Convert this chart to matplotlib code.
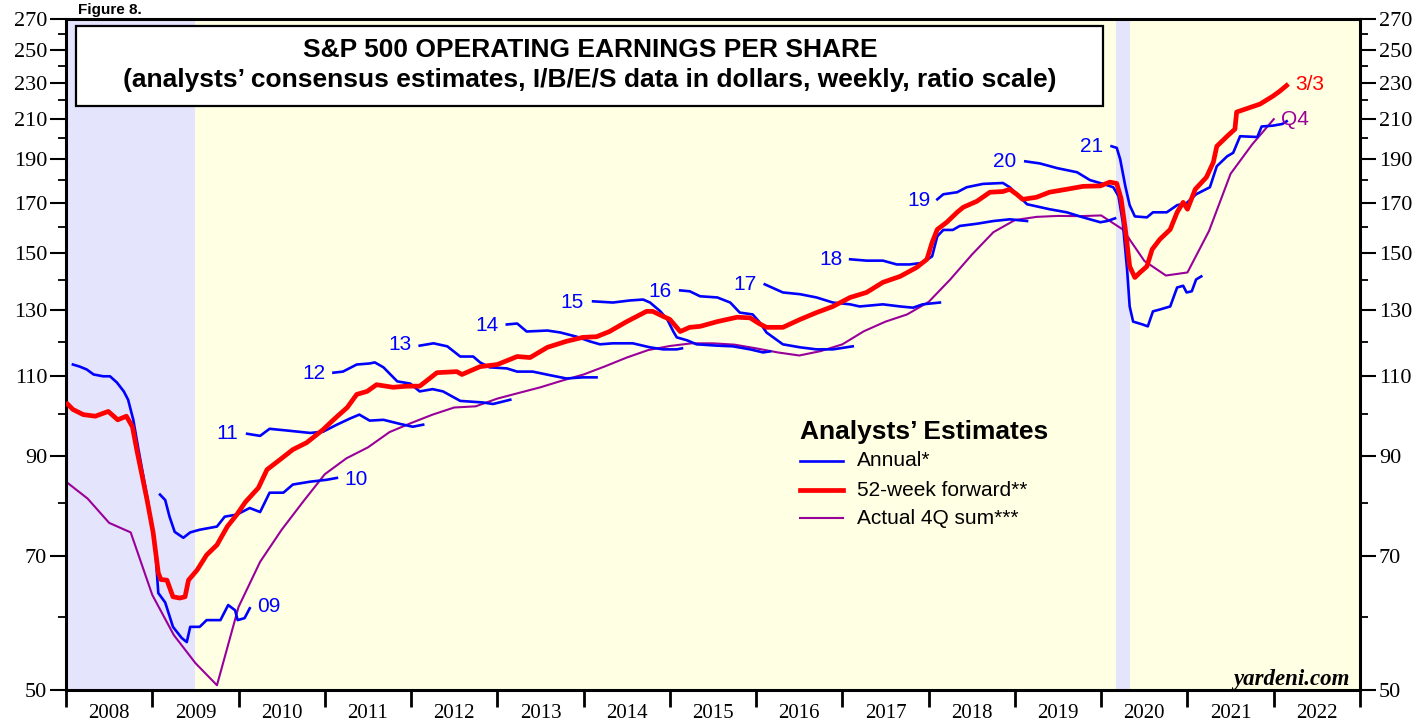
import matplotlib
matplotlib.use('Agg')
import matplotlib.pyplot as plt
from matplotlib.ticker import FixedLocator, FixedFormatter, NullFormatter
from matplotlib.patches import Rectangle

plt.rcParams['font.family'] = ['Liberation Sans', 'DejaVu Sans']

# 52-week forward earnings (weekly)
fwd_t = [2008.00, 2008.08, 2008.20, 2008.34, 2008.49, 2008.60, 2008.70, 2008.77, 2008.82, 2008.94,
         2009.01, 2009.07, 2009.10, 2009.17, 2009.24, 2009.32, 2009.38, 2009.42, 2009.52, 2009.63,
         2009.75, 2009.87, 2009.98, 2010.08, 2010.23, 2010.33, 2010.48, 2010.63, 2010.79, 2010.98,
         2011.10, 2011.26, 2011.37, 2011.49, 2011.60, 2011.79, 2011.95, 2012.10, 2012.30, 2012.53,
         2012.59, 2012.80, 2013.00, 2013.23, 2013.38, 2013.58, 2013.80, 2013.99, 2014.15, 2014.30,
         2014.50, 2014.73, 2014.80, 2014.92, 2015.00, 2015.12, 2015.23, 2015.35, 2015.55, 2015.78,
         2015.93, 2016.04, 2016.12, 2016.31, 2016.51, 2016.70, 2016.89, 2017.09, 2017.28, 2017.47,
         2017.67, 2017.86, 2017.98, 2018.04, 2018.10, 2018.21, 2018.33, 2018.40, 2018.56, 2018.71,
         2018.86, 2018.94, 2019.02, 2019.09, 2019.25, 2019.40, 2019.60, 2019.79, 2019.99, 2020.10,
         2020.18, 2020.23, 2020.28, 2020.33, 2020.39, 2020.45, 2020.53, 2020.59, 2020.68, 2020.80,
         2020.88, 2020.95, 2021.00, 2021.09, 2021.22, 2021.30, 2021.34, 2021.46, 2021.55, 2021.57,
         2021.69, 2021.84, 2021.99, 2022.07, 2022.17]
fwd_v = [103.0, 101.2, 99.9, 99.5, 100.7, 98.6, 99.5, 96.9, 91.5, 80.6,
         74.3, 67.1, 66.0, 65.9, 63.2, 63.0, 63.2, 65.9, 67.6, 70.2,
         72.0, 75.4, 77.7, 80.2, 83.1, 87.0, 89.2, 91.5, 93.1, 96.2,
         98.6, 101.7, 105.1, 105.9, 107.7, 107.0, 107.3, 107.3, 111.0, 111.3,
         110.5, 112.7, 113.3, 115.6, 115.3, 118.3, 120.1, 121.3, 121.5, 123.1,
         126.2, 129.5, 129.5, 127.9, 126.9, 123.1, 124.4, 124.7, 126.2, 127.6,
         127.4, 125.5, 124.4, 124.4, 126.9, 129.1, 131.1, 134.1, 135.8, 139.3,
         141.4, 144.6, 147.6, 154.0, 159.1, 162.0, 166.1, 168.2, 170.8, 174.7,
         175.0, 176.0, 173.8, 171.6, 172.5, 174.7, 176.0, 177.3, 177.5, 179.2,
         178.6, 172.0, 159.1, 145.0, 141.0, 142.8, 145.0, 151.3, 155.2, 159.1,
         166.1, 170.3, 167.4, 176.0, 181.4, 188.4, 196.1, 201.1, 204.7, 213.7,
         215.6, 218.0, 222.4, 225.2, 229.3]

# actual 4Q trailing sum (quarterly)
act_t = [2008.00, 2008.25, 2008.50, 2008.75, 2009.00, 2009.25, 2009.50, 2009.75, 2010.00, 2010.25,
         2010.50, 2010.75, 2011.00, 2011.25, 2011.50, 2011.75, 2012.00, 2012.25, 2012.50, 2012.75,
         2013.00, 2013.25, 2013.50, 2013.75, 2014.00, 2014.25, 2014.50, 2014.75, 2015.00, 2015.25,
         2015.50, 2015.75, 2016.00, 2016.25, 2016.50, 2016.75, 2017.00, 2017.25, 2017.50, 2017.75,
         2018.00, 2018.25, 2018.50, 2018.75, 2019.00, 2019.25, 2019.50, 2019.75, 2020.00, 2020.25,
         2020.50, 2020.75, 2021.00, 2021.25, 2021.50, 2021.75, 2022.00]
act_v = [84.4, 80.9, 76.1, 74.3, 63.5, 57.4, 53.5, 50.6, 61.6, 69.0,
         74.8, 80.3, 86.0, 89.5, 92.0, 95.6, 97.8, 99.9, 101.7, 102.0,
         104.0, 105.5, 107.0, 108.8, 110.5, 112.8, 115.3, 117.5, 118.7, 119.5,
         119.5, 119.1, 118.0, 116.8, 115.9, 117.2, 119.2, 123.2, 126.2, 128.5,
         132.6, 140.3, 149.3, 158.0, 162.9, 164.2, 164.6, 164.5, 164.8, 159.1,
         147.0, 141.7, 142.8, 158.5, 183.0, 197.0, 209.9]

# annual consensus estimates, one line per calendar year
est09_t = [2008.08, 2008.16, 2008.24, 2008.32, 2008.43, 2008.51, 2008.59, 2008.67, 2008.72, 2008.78,
           2008.84, 2008.94, 2009.03, 2009.07, 2009.15, 2009.24, 2009.34, 2009.40, 2009.44, 2009.55,
           2009.63, 2009.79, 2009.88, 2009.96, 2009.99, 2010.07, 2010.13]
est09_v = [113.3, 112.7, 111.9, 110.5, 110.0, 110.0, 108.3, 105.9, 103.7, 98.6,
           91.5, 81.3, 72.2, 63.8, 62.3, 58.6, 57.0, 56.4, 58.6, 58.6,
           59.6, 59.6, 61.9, 61.1, 59.6, 59.9, 61.4]
est10_t = [2009.09, 2009.15, 2009.20, 2009.26, 2009.36, 2009.44, 2009.55, 2009.75, 2009.84, 2009.98,
           2010.13, 2010.25, 2010.36, 2010.52, 2010.63, 2010.83, 2011.02, 2011.14]
est10_v = [81.7, 80.6, 77.3, 74.4, 73.3, 74.3, 74.8, 75.4, 77.3, 77.7,
           79.0, 78.2, 82.1, 82.1, 83.8, 84.4, 84.8, 85.2]
est11_t = [2010.10, 2010.25, 2010.36, 2010.60, 2010.83, 2010.98, 2011.14, 2011.29, 2011.40, 2011.52,
           2011.68, 2011.87, 2012.02, 2012.14]
est11_v = [95.2, 94.7, 96.4, 95.9, 95.4, 95.7, 97.4, 98.9, 99.9, 98.4,
           98.6, 97.6, 96.9, 97.4]
est12_t = [2011.10, 2011.21, 2011.37, 2011.52, 2011.58, 2011.68, 2011.84, 2011.99, 2012.10, 2012.25,
           2012.37, 2012.57, 2012.83, 2012.95, 2013.15]
est12_v = [111.0, 111.3, 113.3, 113.6, 113.9, 112.5, 108.6, 108.0, 105.9, 106.5,
           105.9, 103.4, 103.0, 102.6, 103.7]
est13_t = [2012.10, 2012.26, 2012.42, 2012.57, 2012.72, 2012.80, 2012.91, 2013.11, 2013.23, 2013.41,
           2013.61, 2013.80, 2013.99, 2014.15]
est13_v = [118.8, 119.5, 118.6, 115.6, 115.6, 113.9, 112.5, 112.2, 111.3, 111.3,
           110.3, 109.4, 109.7, 109.7]
est14_t = [2013.11, 2013.23, 2013.34, 2013.58, 2013.73, 2013.92, 2014.07, 2014.19, 2014.34, 2014.57,
           2014.77, 2014.92, 2015.08, 2015.14]
est14_v = [125.3, 125.6, 123.1, 123.4, 122.8, 121.5, 120.1, 119.2, 119.5, 119.5,
           118.3, 117.7, 117.7, 118.0]
est15_t = [2014.11, 2014.34, 2014.54, 2014.69, 2014.77, 2014.89, 2014.97, 2015.04, 2015.08, 2015.20,
           2015.31, 2015.55, 2015.73, 2015.93, 2016.08, 2016.16]
est15_v = [132.8, 132.4, 133.1, 133.4, 132.4, 129.5, 126.9, 123.1, 121.3, 120.4,
           119.2, 118.8, 118.6, 117.7, 116.8, 117.1]
est16_t = [2015.12, 2015.23, 2015.35, 2015.55, 2015.70, 2015.81, 2015.96, 2016.04, 2016.12, 2016.31,
           2016.51, 2016.70, 2016.89, 2017.12]
est16_v = [136.5, 136.2, 134.5, 134.1, 132.4, 129.1, 128.5, 126.0, 122.8, 119.2,
           118.3, 117.7, 117.7, 118.6]
est17_t = [2016.10, 2016.31, 2016.51, 2016.70, 2016.89, 2017.09, 2017.20, 2017.47, 2017.67, 2017.82,
           2017.93, 2018.13]
est17_v = [138.6, 135.8, 135.2, 134.1, 132.4, 131.8, 131.1, 131.8, 131.1, 130.7,
           131.8, 132.4]
est18_t = [2017.09, 2017.28, 2017.47, 2017.63, 2017.78, 2017.93, 2018.04, 2018.10, 2018.17, 2018.28,
           2018.36, 2018.56, 2018.75, 2018.94, 2019.14]
est18_v = [147.6, 147.1, 147.1, 145.7, 145.7, 146.3, 148.7, 156.4, 158.9, 158.9,
           160.5, 161.4, 162.5, 163.2, 162.5]
est19_t = [2018.10, 2018.17, 2018.33, 2018.44, 2018.63, 2018.86, 2018.94, 2019.06, 2019.14, 2019.40,
           2019.60, 2019.79, 2019.99, 2020.07, 2020.16]
est19_v = [171.6, 173.8, 174.7, 176.9, 178.4, 178.8, 176.9, 172.5, 169.5, 167.4,
           166.1, 164.0, 162.0, 162.5, 163.6]
est20_t = [2019.12, 2019.29, 2019.49, 2019.72, 2019.87, 2020.02, 2020.14, 2020.20, 2020.25, 2020.30,
           2020.33, 2020.37, 2020.48, 2020.54, 2020.60, 2020.68, 2020.80, 2020.88, 2020.95, 2020.99,
           2021.05, 2021.10, 2021.16]
est20_v = [188.8, 187.8, 185.6, 183.7, 180.1, 178.4, 176.9, 173.0, 162.0, 143.9,
           131.1, 126.2, 125.3, 124.7, 129.5, 130.1, 131.1, 137.5, 138.1, 135.8,
           136.2, 140.3, 141.4]
est21_t = [2020.12, 2020.18, 2020.22, 2020.28, 2020.33, 2020.39, 2020.53, 2020.60, 2020.76, 2020.88,
           2020.99, 2021.10, 2021.26, 2021.34, 2021.46, 2021.53, 2021.61, 2021.81, 2021.86, 2021.99,
           2022.10, 2022.15]
est21_v = [196.1, 195.3, 189.8, 177.3, 169.1, 164.4, 164.0, 166.1, 166.1, 169.1,
           170.0, 173.8, 176.9, 186.5, 191.2, 192.9, 201.1, 200.7, 206.1, 206.5,
           207.4, 208.8]

# year labels next to each annual line: text, x, y, alignment
lab_text = ['09', '10', '11', '12', '13', '14', '15', '16', '17', '18', '19', '20', '21']
lab_t = [2010.22, 2011.23, 2010.00, 2011.01, 2012.01, 2013.01, 2014.00, 2015.02, 2016.01,
         2017.00, 2018.02, 2019.02, 2020.02]
lab_v = [61.6, 84.9, 95.2, 110.8, 119.1, 124.9, 132.4, 136.2, 138.6, 147.6, 170.9, 188.8, 196.0]
lab_ha = ['left', 'left'] + ['right'] * 11

recessions = [(2007.9, 2009.5), (2020.17, 2020.33)]
ytick_major = [50, 70, 90, 110, 130, 150, 170, 190, 210, 230, 250, 270]
ytick_minor = [60, 80, 100, 120, 140, 160, 180, 200, 220, 240, 260]
years = list(range(2008, 2023))

BLUE = '#0000FF'
RED = '#FF0000'
PURPLE = '#990099'

fig = plt.figure(figsize=(14.16, 7.21), dpi=100)
ax = fig.add_axes([66 / 1416, 31 / 721, 1294 / 1416, 671 / 721])
ax.set_facecolor('#FFFFE3')

for a, b in recessions:
    ax.axvspan(a, b, color='#E4E4FC', lw=0, zorder=0)

annual = [(est09_t, est09_v), (est10_t, est10_v), (est11_t, est11_v), (est12_t, est12_v),
          (est13_t, est13_v), (est14_t, est14_v), (est15_t, est15_v), (est16_t, est16_v),
          (est17_t, est17_v), (est18_t, est18_v), (est19_t, est19_v), (est20_t, est20_v),
          (est21_t, est21_v)]
for t, v in annual:
    ax.plot(t, v, color=BLUE, lw=1.9, zorder=3)
ax.plot(act_t, act_v, color=PURPLE, lw=1.5, zorder=2)
ax.plot(fwd_t, fwd_v, color=RED, lw=3.4, zorder=4, solid_capstyle='butt')

for s, x, y, ha in zip(lab_text, lab_t, lab_v, lab_ha):
    ax.text(x, y, s, color=BLUE, fontsize=15, ha=ha, va='center')
ax.text(2022.25, fwd_v[-1], '3/3', color=RED, fontsize=15, ha='left', va='center')
ax.text(2022.09, act_v[-1], 'Q4', color=PURPLE, fontsize=15, ha='left', va='center')

ax.set_yscale('log')
ax.set_ylim(50, 270)
ax.set_xlim(2008, 2023)
ax.yaxis.set_major_locator(FixedLocator(ytick_major))
ax.yaxis.set_major_formatter(FixedFormatter([str(v) for v in ytick_major]))
ax.yaxis.set_minor_locator(FixedLocator(ytick_minor))
ax.yaxis.set_minor_formatter(NullFormatter())
ax.xaxis.set_major_locator(FixedLocator(list(range(2008, 2024))))
ax.xaxis.set_major_formatter(NullFormatter())
ax.xaxis.set_minor_locator(FixedLocator([y + 0.5 for y in years]))
ax.xaxis.set_minor_formatter(FixedFormatter([str(y) for y in years]))

ax.tick_params(axis='y', which='major', direction='out', length=11.5, width=1.5, pad=2,
               labelsize=16, left=True, right=True, labelleft=True, labelright=True,
               labelfontfamily='Liberation Serif')
ax.tick_params(axis='y', which='minor', direction='out', length=6, width=1.3, left=True, right=True)
ax.tick_params(axis='x', which='major', direction='out', length=12, width=2)
ax.tick_params(axis='x', which='minor', length=0, pad=10, labelsize=15,
               labelfontfamily='Liberation Serif')
for sp in ax.spines.values():
    sp.set_linewidth(2.2)

# title box
ax.add_patch(Rectangle((0.0077, 0.8703), 0.7937, 0.1193, transform=ax.transAxes,
                       facecolor='white', edgecolor='black', lw=1.6, zorder=6))
ax.text(0.405, 0.9538, 'S&P 500 OPERATING EARNINGS PER SHARE', transform=ax.transAxes,
        ha='center', va='center', fontsize=19, fontweight='bold', zorder=7)
ax.text(0.405, 0.909, '(analysts\u2019 consensus estimates, I/B/E/S data in dollars, weekly, ratio scale)',
        transform=ax.transAxes, ha='center', va='center', fontsize=19, fontweight='bold', zorder=7)

# legend
lx0, lx1, ltx = (800 - 66) / 1294, (843 - 66) / 1294, (857 - 66) / 1294
def ay(py):
    return 1 - (py - 19) / 671
ax.text(lx0, ay(432), 'Analysts\u2019 Estimates', transform=ax.transAxes, fontsize=19,
        fontweight='bold', ha='left', va='center')
for py, col, lw, txt in [(461, BLUE, 1.9, 'Annual*'), (490, RED, 3.4, '52-week forward**'),
                         (518, PURPLE, 1.5, 'Actual 4Q sum***')]:
    ax.plot([lx0, lx1], [ay(py), ay(py)], transform=ax.transAxes, color=col, lw=lw)
    ax.text(ltx, ay(py), txt, transform=ax.transAxes, fontsize=15, ha='left', va='center')

ax.text(0.9923, 0.008, 'yardeni.com', transform=ax.transAxes, ha='right', va='baseline',
        fontsize=16.5, fontweight='bold', style='italic', family='Liberation Serif')
fig.text(78 / 1416, 1 - 14 / 721, 'Figure 8.', fontsize=11, fontweight='bold', ha='left', va='baseline')

fig.savefig('out.png', dpi=100)
